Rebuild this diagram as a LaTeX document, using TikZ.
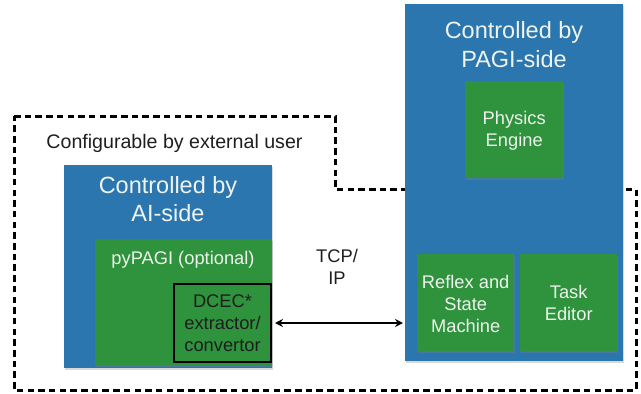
\documentclass[tikz,border=0pt]{standalone}
\usepackage{fontspec}
\setmainfont{Liberation Sans}
\usetikzlibrary{arrows.meta,shadows}
\definecolor{boxblue}{RGB}{44,118,175}
\definecolor{boxgreen}{RGB}{47,146,60}
\definecolor{softwhite}{RGB}{238,243,238}
\definecolor{darktext}{RGB}{30,30,30}
\begin{document}
\begin{tikzpicture}[x=1pt,y=-1pt,
  shade box/.style={drop shadow={shadow xshift=1pt,shadow yshift=-1.5pt,opacity=0.3}},
  bluebx/.style={shade box,fill=boxblue,draw=none,anchor=north west,inner sep=0pt},
  greenbx/.style={shade box,fill=boxgreen,draw=none,anchor=north west,inner sep=0pt},
  title/.style={text=softwhite,align=center,font=\fontsize{23.5}{28.5}\selectfont},
  lbl/.style={text=softwhite,align=center,font=\fontsize{18.3}{22}\selectfont},
  darklbl/.style={text=darktext,align=center,font=\fontsize{18.3}{22}\selectfont},
  region/.style={line width=3pt,dash pattern=on 6.5pt off 4.2pt,draw=black},
  link/.style={line width=1.6pt,{Stealth[length=8pt,width=8pt]}-{Stealth[length=8pt,width=8pt]}}
]
\useasboundingbox (0,0) rectangle (641,394);

% dashed region
\draw[region] (14,116) -- (335,116) -- (335,189) -- (636,189) -- (636,390) -- (14,390) -- cycle;
\node[text=darktext,font=\fontsize{19.6}{23}\selectfont] (cfg) at (174.5,143) {Configurable by external user};

% AI side
\node[bluebx,minimum width=208pt,minimum height=203pt] (ai) at (64,165) {};
\node[title] (aititle) at (168,199) {Controlled by\\AI-side};
\node[greenbx,minimum width=177pt,minimum height=126pt] (py) at (95,239) {};
\node[lbl] (pytext) at (183,260) {pyPAGI (optional)};
\node[fill=boxgreen,draw=black,line width=2pt,anchor=north west,minimum width=97pt,minimum height=78pt,inner sep=0pt] (dcec) at (173,283) {};
\node[darklbl] (dcectext) at (dcec.center) {DCEC*\\extractor/\\convertor};

% PAGI side
\node[bluebx,minimum width=218pt,minimum height=357pt] (pagi) at (405,4) {};
\node[title] (pagititle) at (514,44.5) {Controlled by\\PAGI-side};
\node[greenbx,minimum width=98pt,minimum height=97pt] (phys) at (465,81) {};
\node[lbl] (phystext) at ([yshift=-1.5pt]phys.center) {Physics\\Engine};
\node[greenbx,minimum width=97pt,minimum height=97pt] (reflex) at (417,254) {};
\node[lbl] (reflextext) at ([yshift=-1.5pt]reflex.center) {Reflex and\\State\\Machine};
\node[greenbx,minimum width=97pt,minimum height=97pt] (task) at (520,254) {};
\node[lbl] (tasktext) at (task.center) {Task\\Editor};

% connection
\coordinate (aend) at ([xshift=3pt]dcec.east);
\coordinate (bend) at ([yshift=-19pt]dcec.east -| pagi.west);
\draw[link] (aend) -- ([xshift=-2pt]aend -| bend);
\node[darklbl] (tcp) at (337,267) {TCP/\\IP};
\end{tikzpicture}
\end{document}
